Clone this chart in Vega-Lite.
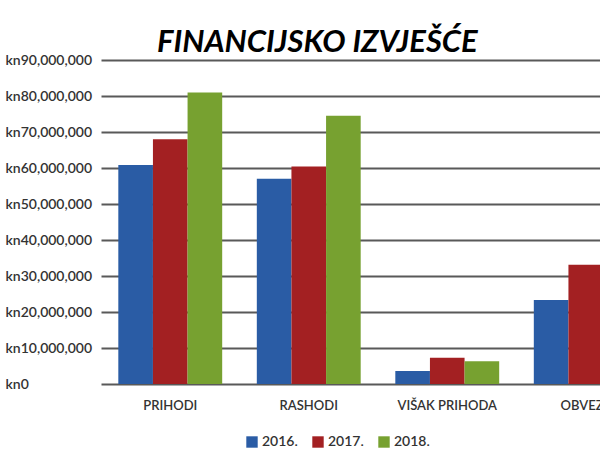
{
  "$schema": "https://vega.github.io/schema/vega-lite/v6.json",
  "autosize": {"type": "none"},
  "padding": {"left": 101, "top": 60, "right": 0, "bottom": 66},
  "width": 499,
  "height": 324,
  "background": "white",
  "title": {
    "text": "FINANCIJSKO IZVJEŠĆE",
    "anchor": "start",
    "frame": "group",
    "dx": 56,
    "dy": 38,
    "offset": 8,
    "baseline": "alphabetic",
    "font": "Lato",
    "fontSize": 31,
    "fontWeight": "bold",
    "fontStyle": "italic",
    "color": "#000000"
  },
  "data": {
    "values": [
      {"stavka": "PRIHODI", "godina": "2016.", "iznos": 60800000},
      {"stavka": "PRIHODI", "godina": "2017.", "iznos": 68000000},
      {"stavka": "PRIHODI", "godina": "2018.", "iznos": 81000000},
      {"stavka": "RASHODI", "godina": "2016.", "iznos": 57000000},
      {"stavka": "RASHODI", "godina": "2017.", "iznos": 60400000},
      {"stavka": "RASHODI", "godina": "2018.", "iznos": 74500000},
      {"stavka": "VIŠAK PRIHODA", "godina": "2016.", "iznos": 3600000},
      {"stavka": "VIŠAK PRIHODA", "godina": "2017.", "iznos": 7300000},
      {"stavka": "VIŠAK PRIHODA", "godina": "2018.", "iznos": 6300000},
      {"stavka": "OBVEZE", "godina": "2016.", "iznos": 23300000},
      {"stavka": "OBVEZE", "godina": "2017.", "iznos": 33100000},
      {"stavka": "OBVEZE", "godina": "2018.", "iznos": 30000000}
    ]
  },
  "mark": {"type": "bar"},
  "encoding": {
    "x": {
      "field": "stavka",
      "type": "nominal",
      "sort": ["PRIHODI", "RASHODI", "VIŠAK PRIHODA", "OBVEZE"],
      "scale": {"range": [0, 554], "paddingInner": 0.25, "paddingOuter": 0.125},
      "axis": {
        "title": null,
        "domain": false,
        "ticks": false,
        "labelAngle": 0,
        "labelPadding": 15,
        "labelFont": "Lato",
        "labelFontSize": 13,
        "labelFontWeight": 600,
        "labelColor": "#333333"
      }
    },
    "xOffset": {"field": "godina", "type": "nominal"},
    "y": {
      "field": "iznos",
      "type": "quantitative",
      "scale": {"domain": [0, 90000000], "nice": false},
      "axis": {
        "title": null,
        "values": [0, 10000000, 20000000, 30000000, 40000000, 50000000, 60000000, 70000000, 80000000, 90000000],
        "labelExpr": "'kn' + format(datum.value, ',')",
        "domain": false,
        "ticks": false,
        "labelAlign": "left",
        "labelBaseline": "middle",
        "labelPadding": 96,
        "labelFont": "Lato",
        "labelFontSize": 14,
        "labelFontWeight": 600,
        "labelColor": "#333333",
        "grid": true,
        "gridColor": "#595959",
        "gridWidth": 2
      }
    },
    "color": {
      "field": "godina",
      "type": "nominal",
      "scale": {"domain": ["2016.", "2017.", "2018."], "range": ["#2a5ca5", "#a32022", "#77a130"]},
      "legend": {
        "title": null,
        "orient": "none",
        "direction": "horizontal",
        "legendX": 144,
        "legendY": 375,
        "symbolType": "square",
        "symbolSize": 130,
        "symbolOpacity": 1,
        "labelFont": "Lato",
        "labelFontSize": 14,
        "labelFontWeight": 600,
        "labelColor": "#333333",
        "labelOffset": 3,
        "columnPadding": 13
      }
    }
  },
  "config": {"view": {"stroke": null}}
}
